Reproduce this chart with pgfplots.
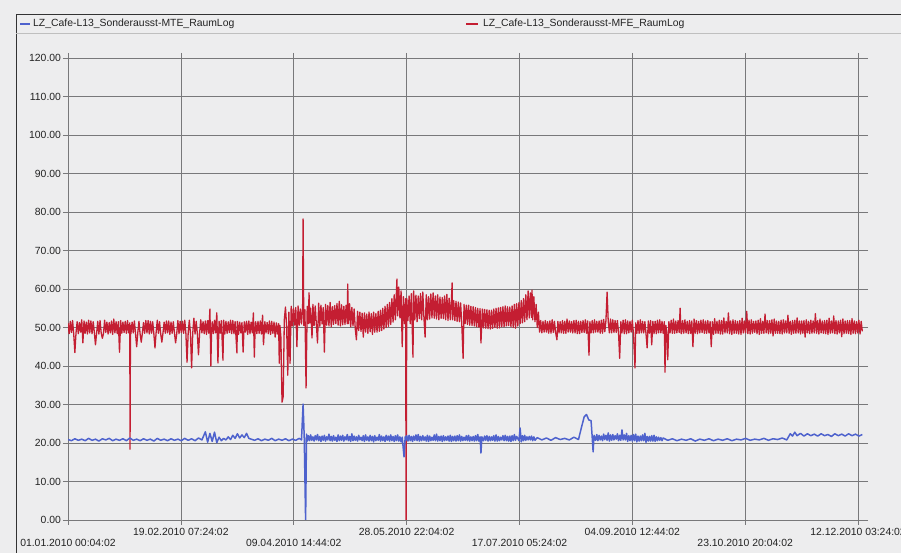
\documentclass[border=0pt]{standalone}
\usepackage{pgfplots}
\pgfplotsset{compat=1.18}
\usepackage{fontspec}
\setmainfont{Liberation Sans}
\definecolor{bgpaper}{RGB}{237,237,238}
\definecolor{gridc}{RGB}{120,120,122}
\definecolor{mteblue}{RGB}{78,98,205}
\definecolor{mfered}{RGB}{196,30,50}
\definecolor{txt}{RGB}{35,35,35}
\begin{document}
\begin{tikzpicture}[x=1pt,y=1pt]
% page and frame
\useasboundingbox (0,0) rectangle (901,553);
\fill[bgpaper] (0,0) rectangle (901,553);
\draw[black!80,line width=1pt] (16,0) -- (16,538) -- (901,538);
\draw[black!25,line width=0.6pt] (16,520) -- (901,520);
% series key
\draw[mteblue,line width=1.6pt] (20,529) -- (30,529);
\node[anchor=west,inner sep=0pt,text=txt,font=\fontsize{10.4}{12}\selectfont] at (33,529) {LZ\_Cafe-L13\_Sonderausst-MTE\_RaumLog};
\draw[mfered,line width=1.6pt] (466,529) -- (478,529);
\node[anchor=west,inner sep=0pt,text=txt,font=\fontsize{10.4}{12}\selectfont] at (483,529) {LZ\_Cafe-L13\_Sonderausst-MFE\_RaumLog};
\begin{axis}[
  at={(68pt,33pt)}, anchor=south west,
  scale only axis, width=795pt, height=462pt,
  xmin=0, xmax=347.3, ymin=0, ymax=120,
  axis line style={draw=none},
  grid=major,
  major grid style={gridc,line width=0.7pt},
  tick style={gridc,line width=0.7pt},
  tick align=outside, major tick length=5pt,
  /pgf/number format/assume math mode=true,
  ticklabel style={font=\fontsize{10.4}{12}\selectfont,text=txt},
  ytick={0,10,...,120},
  yticklabels={0.00,10.00,20.00,30.00,40.00,50.00,60.00,70.00,80.00,90.00,100.00,110.00,120.00},
  yticklabel style={xshift=1.5pt},
  xtick={0,98.611,197.222,295.833},
  xticklabels={{01.01.2010 00:04:02},{09.04.2010 14:44:02},{17.07.2010 05:24:02},{23.10.2010 20:04:02}},
  xticklabel style={yshift=-11pt},
  extra x ticks={49.306,147.917,246.528,345.139},
  extra x tick labels={{19.02.2010 07:24:02},{28.05.2010 22:04:02},{04.09.2010 12:44:02},{12.12.2010 03:24:02}},
  extra x tick style={grid=major,xticklabel style={yshift=11pt}},
  clip=true,
]
% MFE room log
\addplot[mfered,line width=1.3pt,line join=round] coordinates {
(0,51.2)(.5,48.4)(1,51.6)(1.5,48.7)(2,51.8)(2.5,48.3)(3,43.5)(3.5,48.6)(4,51.5)(4.5,48.4)
(5,51.3)(5.5,48.8)(6,52.0)(6.5,46.0)(7,51.7)(7.5,48.5)(8,51.4)(8.5,48.3)(9,51.9)(9.5,48.6)
(10,51.7)(10.5,48.4)(11,51.5)(11.5,48.8)(12,45.5)(12.5,48.5)(13,51.6)(13.5,48.3)(14,51.8)(14.5,48.6)
(15,47.2)(15.5,48.4)(16,51.9)(16.5,48.7)(17,51.4)(17.5,48.3)(18,51.3)(18.5,48.6)(19,51.7)(19.5,48.2)
(20,52.2)(20.5,48.6)(21,51.5)(21.5,48.4)(22,51.5)(22.5,43.6)(23,51.8)(23.5,48.5)(24,51.4)(24.5,48.7)
(25,51.6)(25.5,48.5)(26,51.8)(26.5,48.6)(27,51.2)(27.1,18.4)(27.3,50.5)(27.5,48.4)(28,51.4)(28.5,48.6)
(29,51.7)(29.5,48.4)(30,45.0)(30.5,48.7)(31,51.6)(31.5,48.3)(32,46.2)(32.5,48.6)(33,51.3)(33.5,48.5)
(34,51.8)(34.5,48.6)(35,51.8)(35.5,48.3)(36,51.6)(36.5,48.5)(37,51.5)(37.5,48.4)(38,44.7)(38.5,48.7)
(39,51.9)(39.5,48.5)(40,51.5)(40.5,48.3)(41,46.2)(41.5,48.6)(42,51.4)(42.5,48.5)(43,51.7)(43.5,48.6)
(44,51.7)(44.5,48.2)(45,51.4)(45.5,48.5)(46,51.5)(46.5,48.6)(47,46.0)(47.5,48.4)(48,51.8)(48.5,48.4)
(49,51.6)(49.5,48.7)(50,51.6)(50.5,48.5)(51,51.9)(51.5,48.5)(52,41.0)(52.5,48.6)(53,51.9)(53.5,48.4)
(54,39.5)(54.5,48.6)(55,52.4)(55.5,48.3)(56,51.6)(56.5,48.5)(57,42.9)(57.5,48.6)(58,52.0)(58.5,48.6)
(59,51.5)(59.5,48.4)(60,51.7)(60.5,48.2)(61,51.8)(61.5,48.5)(62,54.8)(62.4,40.0)(62.7,48.5)(63,51.5)
(63.5,48.4)(64,51.9)(64.5,48.6)(65,53.8)(65.5,40.8)(66,51.6)(66.5,48.5)(67,51.8)(67.7,41.5)(68,51.9)
(68.5,48.3)(69,51.6)(69.5,48.5)(70,51.5)(70.5,48.7)(71,51.9)(71.5,48.4)(72,51.8)(72.5,48.4)(73,51.5)
(73.8,43.4)(74,51.6)(74.5,48.2)(75,51.4)(75.5,48.6)(76,51.3)(76.5,43.6)(77,51.5)(77.5,48.8)(78,51.6)
(78.5,48.2)(79,51.7)(79.5,48.4)(80,51.4)(80.5,48.6)(81,53.8)(81.4,42.3)(81.7,48.6)(82,51.5)(82.5,48.4)
(83,51.6)(83.5,48.5)(84,51.7)(84.5,48.3)(85,53.2)(85.4,45.5)(85.7,48.6)(86,51.5)(86.5,48.6)(87,51.3)
(87.5,48.4)(88,51.7)(88.5,48.2)(89,51.6)(89.5,48.5)(90,51.4)(90.5,47.5)(91,51.2)(91.5,48.3)(92,51.0)
(92.3,40.7)(92.6,50.5)(93,47.5)(93.5,30.6)(94,32.0)(94.5,52.0)
(95,55.3)(95.5,50.4)(96,37.6)(96.5,54.0)(97,40.7)(97.5,55.5)(98,50.4)(98.5,55.0)(99,50.6)(99.5,55.2)
(100,45.0)(100.5,55.6)(101,50.6)(101.5,54.8)(102,50.9)(102.5,55.4)(102.7,78.2)(103,50.5)(103.5,54.6)(104,34.3)
(104.5,55.5)(105,51.0)(105.3,59.0)(105.6,51.2)(106,55.0)(106.6,47.3)(107,56.0)(107.5,50.5)(108,55.6)(108.5,50.8)
(109,46.0)(109.5,56.3)(110,50.3)(110.5,55.8)(111,50.9)(111.5,55.2)(112,43.6)(112.5,56.0)(113,50.6)(113.5,55.7)
(114,50.4)(114.5,56.5)(115,50.2)(115.5,55.4)(116,50.8)(116.5,55.7)(117,51.0)(117.5,56.2)(118,50.6)(118.5,56.8)
(119,50.4)(119.5,55.9)(120,50.7)(120.5,55.5)(121,50.8)(121.5,55.8)(122,51.0)(122.2,61.3)(122.5,51.0)(123,56.2)
(123.5,50.2)(124,55.2)(124.5,50.4)(125,54.8)(125.5,49.6)(126,46.8)(126.5,54.2)(127,49.2)(127.5,54.0)(128,49.0)
(128.5,53.7)(129,47.5)(129.5,53.8)(130,48.8)(130.5,53.5)(131,48.5)(131.5,54.0)(132,48.9)(132.5,53.6)(133,48.2)
(133.5,54.0)(134,48.8)(134.5,53.6)(135,48.8)(135.5,54.2)(136,49.0)(136.5,54.5)(137,49.2)(137.5,55.0)(138,49.6)
(138.5,55.5)(139,50.0)(139.5,56.0)(140,50.3)(140.5,56.5)(141,50.8)(141.5,57.5)(142,51.4)(142.5,58.5)(143,52.0)
(143.7,62.6)(144,53.0)(144.5,60.5)(145,52.5)(145.5,59.5)(146,45.0)(146.5,58.0)(147,51.0)(147.5,57.5)(147.7,0.0)
(148,57.5)(148.5,51.8)(149,58.2)(149.5,51.0)(150,58.8)(150.7,42.3)(151,59.5)(151.5,52.0)(152,58.4)(152.5,51.5)
(153,58.2)(153.5,52.3)(154,58.8)(154.5,52.0)(155,59.2)(155.5,52.4)(156,47.5)(156.5,58.5)(157,52.0)(157.5,58.0)
(158,52.2)(158.5,58.7)(159,52.5)(159.5,59.0)(160,52.4)(160.5,58.2)(161,52.2)(161.5,58.5)(162,52.0)(162.5,57.9)
(163,52.4)(163.5,57.8)(164,52.3)(164.5,58.2)(165,52.0)(165.5,58.6)(166,51.8)(166.5,57.6)(167,52.0)(167.5,57.2)
(167.8,61.6)(168,52.0)(168.5,57.0)(169,51.8)(169.5,56.8)(170,51.6)(170.5,56.6)(171,51.5)(171.5,56.4)(172,51.2)
(172.6,42.0)(173,56.0)(173.5,51.0)(174,55.8)(174.5,50.8)(175,55.8)(175.5,50.6)(176,55.5)(176.5,50.5)(177,55.4)
(177.5,50.4)(178,55.2)(178.5,50.2)(179,55.0)(179.5,50.1)(180,54.9)(180.4,46.0)(181,54.8)(181.5,49.9)(182,54.7)
(182.5,49.8)(183,54.6)(183.5,49.7)(184,54.5)(184.5,49.6)(185,54.5)(185.5,49.8)(186,54.8)(186.5,50.0)(187,55.0)
(187.5,49.8)(188,55.1)(188.5,49.9)(189,55.2)(189.5,50.2)(190,55.4)(190.5,50.2)(191,55.6)(191.5,50.4)(192,55.4)
(192.5,50.5)(193,55.3)(193.5,50.2)(194,55.6)(194.5,50.0)(195,56.0)(195.5,49.8)(196,56.2)(196.5,50.4)(197,56.5)
(197.5,51.0)(198,57.0)(198.5,51.2)(199,57.5)(199.5,51.5)(200,58.5)(200.5,52.0)(201,59.5)(201.5,52.5)(202,59.0)
(202.5,52.6)(202.7,59.7)(203,52.0)(203.5,58.0)(204,51.5)(204.5,56.0)(205,50.0)(205.5,54.0)(206,48.8)
(206.5,51.8)(207,48.6)(207.5,51.6)(208,48.8)(208.5,51.8)(209,48.8)(209.5,51.5)(210,48.5)(210.5,51.7)(211,48.5)
(211.5,52.0)(212,48.7)(212.5,51.6)(213,48.7)(213.6,46.8)(214,51.6)(214.5,48.6)(215,51.5)(215.5,48.6)(216,51.8)
(216.5,48.5)(217,51.6)(217.5,48.5)(218,52.2)(218.5,48.8)(219,51.7)(219.5,48.8)(220,51.5)(220.5,48.6)(221,51.8)
(221.5,48.6)(222,51.9)(222.5,48.4)(223,51.6)(223.5,48.4)(224,51.6)(224.5,48.7)(225,51.8)(225.5,48.7)(226,52.0)
(226.5,48.5)(227,51.7)(227.6,42.8)(228,51.5)(228.5,48.6)(229,51.8)(229.5,48.6)(230,52.0)(230.5,48.8)(231,51.6)
(231.5,48.8)(232,51.7)(232.5,48.5)(233,51.9)(233.5,48.5)(234,52.1)(234.5,48.9)(235,51.8)(235.5,59.2)(236,51.6)
(236.5,48.6)(237,52.2)(237.5,48.6)(238,52.0)(238.5,48.7)(239,51.8)(239.5,48.7)(240,51.8)(240.5,48.6)(241,42.0)
(241.5,51.5)(242,48.6)(242.5,51.9)(243,48.4)(243.5,52.0)(244,48.4)(244.5,51.7)(245,48.6)(245.5,51.6)(246,48.8)
(246.5,51.9)(247,48.5)(247.7,39.5)(248,51.2)(248.5,48.5)(249,51.8)(249.5,48.5)(250,52.0)(250.5,48.6)(251,51.6)
(251.5,48.6)(252,51.5)(252.5,48.4)(253,44.7)(253.5,51.7)(254,48.5)(254.5,51.8)(255,45.5)(255.5,51.6)(256,48.4)
(256.5,51.6)(257,48.4)(257.5,51.9)(258,48.6)(258.5,52.0)(259,48.6)(259.5,51.6)(260,48.5)(260.5,51.5)(260.8,38.4)
(261.2,50.5)(261.6,48.4)(262,41.6)(262.5,51.5)(263,48.6)(263.5,51.9)(264,48.5)(264.5,52.2)(265,48.5)(265.5,51.7)
(266,48.6)(266.5,51.8)(267,48.7)(267.4,55.0)(267.8,48.6)(268,48.4)(268.5,51.8)(269,48.5)(269.5,52.0)(270,48.6)
(270.5,51.6)(271,48.4)(271.5,51.8)(272,48.5)(272.5,51.7)(273,45.0)(273.5,52.2)(274,48.5)(274.5,51.8)(275,48.4)
(275.5,51.6)(276,48.6)(276.5,51.9)(277,48.7)(277.5,52.0)(278,48.5)(278.5,51.7)(279,48.5)(279.5,51.8)(280,48.6)
(280.5,51.5)(281,45.0)(281.5,51.5)(282,48.2)(282.5,52.3)(283,48.5)(283.5,51.6)(284,48.5)(284.5,51.9)(285,48.3)
(285.5,51.8)(286,48.3)(286.5,52.5)(287,48.6)(287.5,51.6)(288,48.6)(288.5,53.8)(289,48.4)(289.5,51.7)(290,48.2)
(290.5,52.0)(291,48.5)(291.5,51.8)(292,48.5)(292.5,51.6)(293,48.3)(293.5,51.8)(294,48.2)(294.5,52.4)(295,48.6)
(295.5,51.7)(296,48.6)(296.5,54.2)(297,48.4)(297.5,51.9)(298,48.3)(298.5,52.0)(299,48.5)(299.5,51.6)(300,48.7)
(300.5,51.7)(301,48.4)(301.5,51.9)(302,48.2)(302.5,52.3)(303,48.5)(303.5,51.6)(304,48.5)(304.5,53.5)(305,48.6)
(305.5,51.8)(306,48.4)(306.5,51.8)(307,48.5)(307.5,52.0)(308,47.8)(308.5,52.2)(309,48.5)(309.5,51.7)(310,48.5)
(310.5,51.6)(311,48.4)(311.5,51.9)(312,48.3)(312.5,52.0)(313,48.6)(313.5,51.7)(314,48.6)(314.5,53.2)(315,48.5)
(315.5,51.6)(316,48.2)(316.5,51.8)(317,48.5)(317.5,51.9)(318,48.5)(318.5,52.5)(319,48.6)(319.5,51.7)(320,48.3)
(320.5,51.7)(321,48.5)(321.5,51.8)(322,47.5)(322.5,52.0)(323,48.6)(323.5,51.6)(324,48.4)(324.5,51.9)(325,48.5)
(325.5,51.7)(326,48.6)(326.5,53.6)(327,48.5)(327.5,51.8)(328,48.3)(328.5,52.2)(329,48.6)(329.5,51.7)(330,48.5)
(330.5,51.8)(331,48.4)(331.5,51.9)(332,48.2)(332.5,52.4)(333,48.5)(333.5,51.7)(334,48.6)(334.5,53.0)(335,48.4)
(335.5,51.8)(336,48.3)(336.5,51.7)(337,48.6)(337.5,51.9)(338,47.6)(338.5,52.2)(339,48.4)(339.5,51.7)(340,48.5)
(340.5,51.8)(341,48.4)(341.5,51.8)(342,48.2)(342.5,52.3)(343,48.5)(343.5,51.7)(344,48.4)(344.5,51.5)(345,48.6)
(345.5,51.9)(346,48.3)(346.5,51.6)(347,49.0)
};
% MTE room log
\addplot[mteblue,line width=1.5pt,line join=round] coordinates {
(0,20.9)(1.5,20.6)(3,21.1)(4.5,20.7)(6,21.0)(7.5,20.6)(9,21.2)(10.5,20.7)(12,21.0)(13.5,20.5)
(15,21.1)(16.5,20.8)(18,21.2)(19.5,20.6)(21,21.0)(22.5,20.7)(24,21.1)(25.5,20.6)(27,21.3)(28.5,20.7)
(30,21.0)(31.5,20.6)(33,21.1)(34.5,20.7)(36,21.0)(37.5,20.5)(39,21.2)(40.5,20.7)(42,21.0)(43.5,20.6)
(45,21.1)(46.5,20.7)(48,21.0)(49.5,20.6)(51,21.2)(52.5,20.7)(54,21.1)(55.5,20.6)(57,21.3)(58.5,20.8)
(60,22.9)(61,20.2)(62,22.5)(63,20.4)(64,22.8)(65,20.1)(66,21.5)(67,20.6)(68,21.2)(69,20.8)
(70,21.6)(71,20.9)(72,22.0)(73,21.2)(74,22.4)(75,21.3)(76,22.1)(77,21.4)(78,22.5)(79,21.2)
(80,21.0)(81.5,20.7)(83,21.1)(84.5,20.6)(86,21.0)(87.5,20.7)(89,21.2)(90.5,20.6)(92,21.0)(93.5,20.7)
(95,21.1)(96.5,20.6)(98,21.0)(99.5,20.7)(101,21.2)(102,20.8)(102.7,30.1)(103.2,21.5)(103.8,0.0)
(104.2,22.3)(104.5,20.5)(105,21.9)(105.5,20.6)(106,22.1)(106.5,20.7)(107,21.6)(107.5,20.5)(108,21.9)(108.5,20.8)
(109,22.2)(109.5,20.6)(110,21.7)(110.5,20.4)(111,21.8)(111.5,20.7)(112,22.0)(112.5,20.5)(113,21.6)(113.5,20.8)
(114,22.3)(114.5,20.6)(115,21.7)(115.5,20.5)(116,21.9)(116.5,20.7)(117,21.5)(117.5,20.4)(118,22.1)(118.5,20.6)
(119,21.8)(119.5,20.7)(120,22.0)(120.5,20.5)(121,21.6)(121.5,20.8)(122,22.2)(122.5,20.6)(123,21.7)(123.5,20.4)
(124,22.4)(124.5,20.6)(125,21.8)(125.5,20.7)(126,21.6)(126.5,20.5)(127,22.0)(127.5,20.8)(128,21.5)(128.5,20.6)
(129,21.9)(129.5,20.4)(130,22.1)(130.5,20.7)(131,21.6)(131.5,20.5)(132,22.0)(132.5,20.6)(133,21.7)(133.5,20.3)
(134,21.9)(134.5,20.6)(135,21.5)(135.5,20.7)(136,22.2)(136.5,20.5)(137,21.8)(137.5,20.6)(138,21.6)(138.5,20.4)
(139,22.0)(139.5,20.7)(140,21.8)(140.5,20.5)(141,22.1)(141.5,20.6)(142,21.7)(142.5,20.4)(143,21.9)(143.5,20.6)
(144,22.1)(144.5,20.5)(145,21.6)(145.5,20.3)(146,21.5)(146.8,16.4)(147.3,21.6)(147.5,20.6)(148,21.9)(148.5,20.5)
(149,22.0)(149.5,20.6)(150,21.7)(150.5,20.4)(151,21.8)(151.5,20.7)(152,22.1)(152.5,20.6)(153,22.2)(153.5,20.5)
(154,21.7)(154.5,20.6)(155,21.9)(155.5,20.7)(156,21.6)(156.5,20.5)(157,22.0)(157.5,20.4)(158,21.8)(158.5,20.6)
(159,21.5)(159.5,20.7)(160,22.1)(160.5,20.6)(161,22.3)(161.5,20.5)(162,21.7)(162.5,20.6)(163,21.8)(163.5,20.4)
(164,21.9)(164.5,20.6)(165,21.6)(165.5,20.7)(166,21.8)(166.5,20.5)(167,22.0)(167.5,20.4)(168,21.7)(168.5,20.6)
(169,21.8)(169.5,20.5)(170,21.9)(170.5,20.6)(171,22.1)(171.5,20.5)(172,21.7)(172.5,20.6)(173,21.5)(173.5,20.7)
(174,21.9)(174.5,20.6)(175,22.0)(175.5,20.5)(176,21.6)(176.5,20.6)(177,21.7)(177.5,20.5)(178,21.9)(178.5,20.6)
(179,22.2)(179.5,20.5)(180,21.6)(180.4,17.4)(180.8,21.6)(181.5,20.6)(182,21.8)(182.5,20.7)(183,21.9)(183.5,20.5)
(184,21.7)(184.5,20.6)(185,21.6)(185.5,20.7)(186,21.9)(186.5,20.5)(187,22.1)(187.5,20.5)(188,21.7)(188.5,20.6)
(189,21.5)(189.5,20.8)(190,21.9)(190.5,20.6)(191,22.0)(191.5,20.6)(192,21.7)(192.5,20.5)(193,21.8)(193.5,20.4)
(194,21.9)(194.5,20.6)(195,22.2)(195.5,20.7)(196,21.7)(197,20.6)(197.5,23.9)(198,20.3)(198.5,21.9)(199,20.6)
(199.5,22.0)(200,20.7)(200.5,21.6)(201,20.8)(201.5,21.7)(202,20.8)(202.5,21.8)(203,20.6)(203.5,21.6)(204,20.7)
(205,21.4)(207,20.8)(209,21.3)(211,20.7)(213,21.4)(215,20.9)(217,21.2)(219,20.8)(221,21.5)(223,20.9)
(224.5,24.5)(225.5,26.8)(226.5,27.4)(227.5,26.0)(228.5,25.8)(229,21.5)(229.4,17.7)(229.8,22.0)(230.5,20.7)(231,22.2)
(231.5,20.6)(232,22.0)(232.5,20.8)(233,21.8)(233.5,20.6)(234,22.3)(234.5,20.9)(235,22.0)(235.5,20.7)(236,22.6)
(236.5,20.5)(237,22.1)(237.5,20.7)(238,22.2)(238.5,20.8)(239,21.9)(239.5,21.0)(240,22.4)(240.5,20.6)(241,22.0)
(241.5,20.7)(242,23.4)(242.5,20.8)(243,22.1)(243.5,20.8)(244,22.5)(244.5,20.4)(245,21.9)(245.5,20.6)(246,22.0)
(246.5,20.5)(247,22.2)(247.5,20.6)(248,22.3)(248.5,20.3)(249,21.8)(249.5,20.5)(250,21.8)(250.5,20.6)(251,22.1)
(251.5,20.6)(252,22.5)(252.5,20.2)(253,21.7)(253.5,20.5)(254,21.7)(254.5,20.5)(255,21.9)(255.5,20.5)(256,22.0)
(256.5,20.4)(257,21.6)(257.5,20.6)(258,21.5)(258.5,20.7)(259,21.4)(259.5,20.6)(260,21.3)
(262,20.7)(264,21.1)(266,20.6)(268,21.0)(270,20.7)(272,21.1)(274,20.5)(276,21.0)(278,20.7)(280,21.1)
(282,20.6)(284,21.0)(286,20.7)(288,21.1)(290,20.6)(292,21.0)(294,20.8)(296,21.2)(298,20.7)(300,21.0)
(302,20.8)(304,21.2)(306,20.7)(308,21.1)(310,20.9)(312,21.3)(314,20.8)(315.5,22.4)(316.5,21.8)(317.5,22.8)
(318.5,21.9)(320,22.5)(321.5,21.8)(323,22.4)(324.5,21.9)(326,22.3)(327.5,21.8)(329,22.4)(330.5,21.9)(332,22.2)
(333.5,21.7)(335,22.4)(336.5,21.9)(338,22.3)(339.5,21.8)(341,22.4)(342.5,21.9)(344,22.3)(345.5,21.8)(347,22.2)
};
\end{axis}
\end{tikzpicture}
\end{document}
